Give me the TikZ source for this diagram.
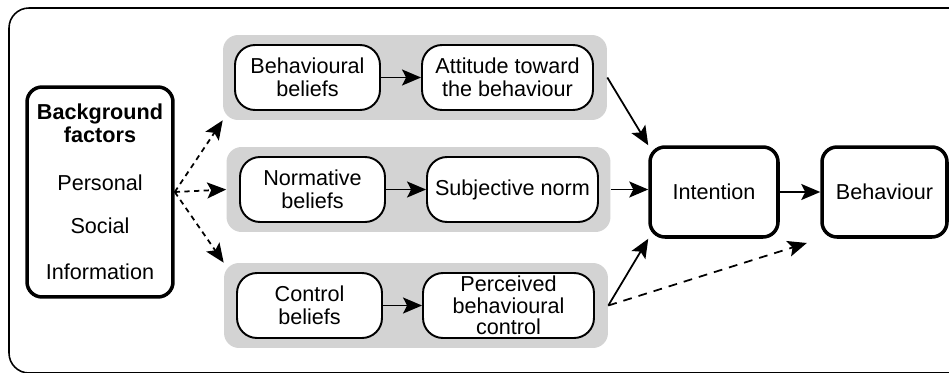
\documentclass[tikz,border=0pt]{standalone}
\usepackage{fontspec}
\setmainfont{Liberation Sans}
\usepackage{tikz}
\usetikzlibrary{arrows.meta,positioning}
\definecolor{bandgray}{HTML}{D3D3D3}

\begin{document}
\begin{tikzpicture}[
    x=0.02cm, y=-0.02cm,
    font=\fontsize{12.3}{13}\selectfont,
    band/.style={fill=bandgray, rounded corners=0.3cm, minimum width=7.68cm, minimum height=1.7cm},
    belief/.style={draw, line width=1.1pt, fill=white, rounded corners=0.4cm, minimum width=2.9cm, minimum height=1.3cm, align=center, inner sep=1pt},
    outcome/.style={belief, minimum width=3.42cm},
    mainbox/.style={draw, line width=2pt, fill=white, rounded corners=0.3cm, minimum height=1.8cm, align=center},
    arrow/.style={-{Stealth[length=3.8mm, width=3.2mm, inset=0.8mm]}, line width=1pt},
    linkdashed/.style={arrow, dash pattern=on 3pt off 2.5pt}
]
\useasboundingbox (0,0) rectangle (949,372);
\clip (0,0) rectangle (949,372);
\draw[line width=0.9pt, rounded corners=0.4cm] (9,8) rectangle (975,373);

% grey groups
\node[band] (tband) at (415,77.5) {};
\node[band] (mband) at (418.5,189.5) {};
\node[band] (bband) at (416,305.5) {};

\node[belief] (bb) at (307.5,77.5) {Behavioural\\beliefs};
\node[outcome] (att) at (507.5,77.5) {Attitude toward\\the behaviour};
\node[belief] (nb) at (312.5,189.5) {Normative\\beliefs};
\node[outcome] (sn) at (512.5,189.5) {Subjective norm};
\node[belief] (cb) at (309.5,305.5) {Control\\beliefs};
\node[outcome, font=\fontsize{12.3}{12.2}\selectfont] (pbc) at (508.5,305.5) {Perceived\\behavioural\\control};

\node[mainbox, minimum width=2.92cm, minimum height=4.2cm] (bg) at (100,192)
    {\textbf{Background}\\\textbf{factors}\\[14pt]Personal\\[12pt]Social\\[13pt]Information};
\node[mainbox, minimum width=2.56cm] (intention) at (714,192) {Intention};
\node[mainbox, minimum width=2.5cm] (behaviour) at (884.5,192) {Behaviour};

\draw[arrow] (bb) -- (att);
\draw[arrow] (nb) -- (sn);
\draw[arrow] (cb) -- (pbc);

\foreach \target in {tband.south west,mband.west,bband.north west}
    \draw[linkdashed] (bg.east) -- (\target);

\draw[arrow] (tband.east) -- (intention.north west);
\draw[arrow] (mband.east) -- (mband.east -| intention.west);
\draw[arrow] (bband.east) -- (intention.south west);
\draw[arrow] (intention) -- (behaviour);
\draw[linkdashed, dash pattern=on 5pt off 4pt, shorten >=8pt] (bband.east) -- (behaviour.south west);
\end{tikzpicture}
\end{document}
